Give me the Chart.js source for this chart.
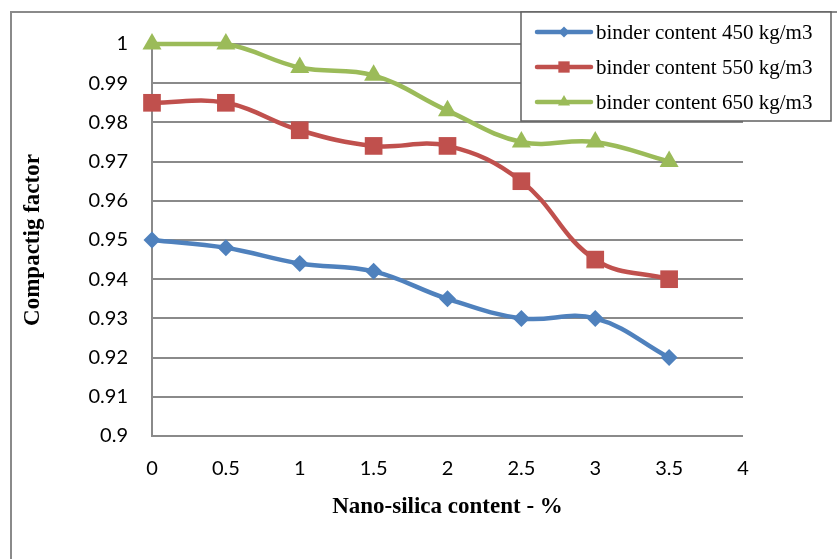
<!DOCTYPE html>
<html>
<head>
<meta charset="utf-8">
<script src="https://cdn.jsdelivr.net/npm/chart.js@4.4.1/dist/chart.umd.min.js"></script>
<style>
  html, body { margin: 0; padding: 0; background: #ffffff; }
  #wrap { width: 837px; height: 559px; position: relative; }
</style>
</head>
<body>
<div id="wrap"><canvas id="chart" width="837" height="559"></canvas></div>
<script>
// Nano-silica content (%) on the x axis
const nanoSilica = [0, 0.5, 1, 1.5, 2, 2.5, 3, 3.5];

// Compacting factor for each binder content
const binder450 = [0.950, 0.948, 0.944, 0.942, 0.935, 0.930, 0.930, 0.920];
const binder550 = [0.985, 0.985, 0.978, 0.974, 0.974, 0.965, 0.945, 0.940];
const binder650 = [1.000, 1.000, 0.994, 0.992, 0.983, 0.975, 0.975, 0.970];

const seriesLabels = ['binder content 450 kg/m3', 'binder content 550 kg/m3', 'binder content 650 kg/m3'];

const xTitle = 'Nano-silica content - %';
const yTitle = 'Compactig factor';

const GRID = '#8a8a8a';
const TICK_FONT = 'Lato';
const SERIF = '"Liberation Serif", "Times New Roman", serif';

function pts(values) {
  return values.map((v, i) => ({ x: nanoSilica[i], y: v }));
}

function series(label, values, color, style, radius) {
  return {
    label,
    data: pts(values),
    borderColor: color,
    backgroundColor: color,
    borderWidth: 4.5,
    pointStyle: style,
    pointRadius: radius,
    pointHoverRadius: radius,
    pointBorderWidth: 0,
    pointBackgroundColor: color,
    tension: 0.4,
    clip: false
  };
}

// White page with the grey frame around the whole chart
const framePlugin = {
  id: 'frame',
  beforeDraw(chart) {
    const ctx = chart.ctx;
    ctx.save();
    ctx.fillStyle = '#ffffff';
    ctx.fillRect(0, 0, chart.width, chart.height);
    ctx.strokeStyle = GRID;
    ctx.lineWidth = 2;
    ctx.strokeRect(11, 12, chart.width + 20, chart.height + 20);
    ctx.restore();
  }
};

// Boxed legend in the top-right corner, drawn over the plot
const boxLegend = {
  id: 'boxLegend',
  afterDraw(chart) {
    const ctx = chart.ctx;
    const box = { x: 521, y: 12, w: 310, h: 109 };
    ctx.save();
    ctx.fillStyle = '#ffffff';
    ctx.fillRect(box.x, box.y, box.w, box.h);
    ctx.strokeStyle = '#606060';
    ctx.lineWidth = 1.5;
    ctx.strokeRect(box.x, box.y, box.w, box.h);
    const rows = [32, 67, 102];
    const markerR = [5.5, 8, 7];
    chart.data.datasets.forEach((ds, i) => {
      const y = rows[i];
      ctx.strokeStyle = ds.borderColor;
      ctx.lineWidth = 4.5;
      ctx.lineCap = 'round';
      ctx.beginPath();
      ctx.moveTo(537, y);
      ctx.lineTo(591, y);
      ctx.stroke();
      ctx.fillStyle = ds.borderColor;
      Chart.helpers.drawPoint(ctx, { pointStyle: ds.pointStyle, radius: markerR[i], borderWidth: 0, rotation: 0 }, 564, y);
      ctx.fillStyle = '#000000';
      ctx.font = '21px ' + SERIF;
      ctx.textBaseline = 'middle';
      ctx.textAlign = 'left';
      ctx.fillText(ds.label, 596, y + 1);
    });
    ctx.restore();
  }
};

new Chart(document.getElementById('chart'), {
  type: 'line',
  data: {
    datasets: [
      series(seriesLabels[0], binder450, '#4f81bd', 'rectRot', 8.5),
      series(seriesLabels[1], binder550, '#c0504d', 'rect', 12.5),
      series(seriesLabels[2], binder650, '#9bbb59', 'triangle', 11)
    ]
  },
  options: {
    responsive: false,
    animation: false,
    events: [],
    layout: { padding: { left: 12, top: 44, right: 94, bottom: 0 } },
    plugins: {
      legend: { display: false },
      tooltip: { enabled: false }
    },
    scales: {
      x: {
        type: 'linear',
        min: 0,
        max: 4,
        ticks: {
          stepSize: 0.5,
          padding: 21,
          color: '#000000',
          font: { family: TICK_FONT, size: 20 },
          maxRotation: 0,
          autoSkip: false,
          callback: v => String(+v.toFixed(1))
        },
        grid: { display: false, drawTicks: false },
        border: { display: false },
        title: {
          display: true,
          text: xTitle,
          color: '#000000',
          font: { family: SERIF, size: 23, weight: 'bold' },
          padding: { top: 0, bottom: 38 }
        },
        afterFit(scale) { scale.height = 123; }
      },
      y: {
        type: 'linear',
        min: 0.9,
        max: 1,
        ticks: {
          stepSize: 0.01,
          padding: 24,
          color: '#000000',
          font: { family: TICK_FONT, size: 20 },
          callback: v => String(+v.toFixed(2))
        },
        grid: { color: GRID, lineWidth: 2, drawTicks: false },
        border: { display: true, color: GRID, width: 2 },
        title: {
          display: true,
          text: yTitle,
          color: '#000000',
          font: { family: SERIF, size: 23, weight: 'bold' },
          padding: { top: 7, bottom: 0 }
        },
        afterFit(scale) { scale.width = 140; }
      }
    }
  },
  plugins: [framePlugin, boxLegend]
});
</script>
</body>
</html>
